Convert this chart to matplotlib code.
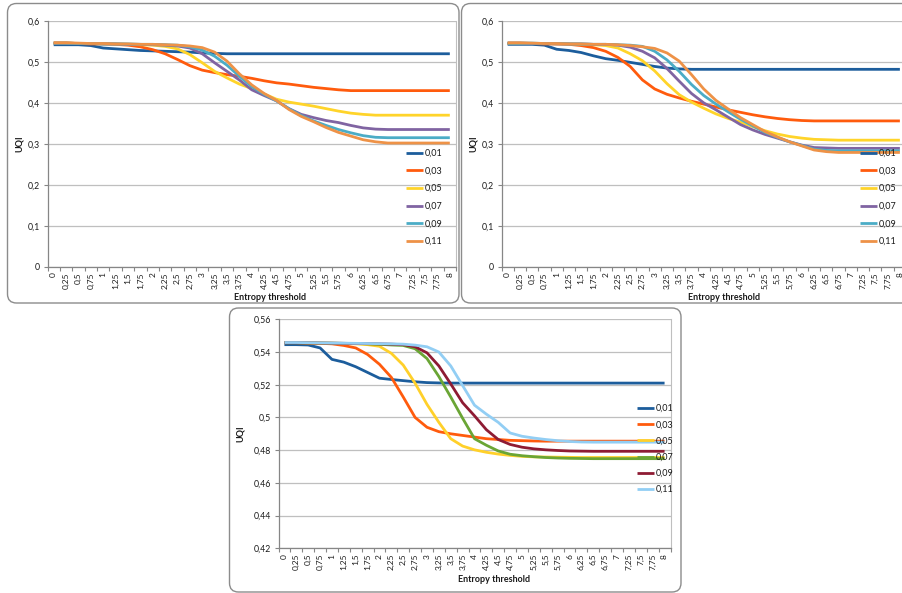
import numpy as np
import matplotlib
matplotlib.use("Agg")
import matplotlib.pyplot as plt
from matplotlib.patches import FancyBboxPatch
from matplotlib.transforms import IdentityTransform

plt.rcParams['font.family'] = ['Lato', 'DejaVu Sans']

# ---------------- data ----------------
x_labels = ["0", "0,25", "0,5", "0,75", "1", "1,25", "1,5", "1,75", "2", "2,25", "2,5", "2,75",
            "3", "3,25", "3,5", "3,75", "4", "4,25", "4,5", "4,75", "5", "5,25", "5,5", "5,75",
            "6", "6,25", "6,5", "6,75", "7", "7,25", "7,5", "7,75", "8"]
series_names = ["0,01", "0,03", "0,05", "0,07", "0,09", "0,11"]

# top-left panel
p1_001 = [0.542, 0.542, 0.542, 0.540, 0.534, 0.532, 0.530, 0.528, 0.527, 0.526, 0.525, 0.524, 0.522, 0.521] + [0.520] * 19
p1_003 = [0.546, 0.546, 0.545, 0.544, 0.544, 0.543, 0.541, 0.537, 0.530, 0.520, 0.506, 0.491, 0.480, 0.474, 0.469, 0.465,
          0.460, 0.454, 0.449, 0.446, 0.442, 0.438, 0.435, 0.432] + [0.430] * 9
p1_005 = [0.546, 0.546, 0.545, 0.545, 0.544, 0.544, 0.543, 0.542, 0.541, 0.538, 0.532, 0.518, 0.498, 0.477, 0.461, 0.446,
          0.435, 0.422, 0.409, 0.402, 0.397, 0.392, 0.386, 0.380, 0.375, 0.372] + [0.370] * 7
p1_007 = [0.546, 0.546, 0.545, 0.545, 0.544, 0.544, 0.543, 0.543, 0.542, 0.541, 0.539, 0.534, 0.520, 0.498, 0.477, 0.456,
          0.432, 0.418, 0.405, 0.386, 0.372, 0.364, 0.357, 0.352, 0.345, 0.339, 0.336] + [0.335] * 6
p1_009 = [0.546, 0.546, 0.545, 0.545, 0.544, 0.544, 0.544, 0.543, 0.543, 0.542, 0.541, 0.537, 0.529, 0.514, 0.492, 0.465,
          0.440, 0.421, 0.405, 0.386, 0.369, 0.356, 0.345, 0.335, 0.327, 0.320, 0.316] + [0.315] * 6
p1_011 = [0.547, 0.547, 0.546, 0.545, 0.545, 0.544, 0.544, 0.543, 0.543, 0.542, 0.541, 0.539, 0.535, 0.524, 0.502, 0.471,
          0.444, 0.423, 0.406, 0.384, 0.367, 0.354, 0.340, 0.328, 0.319, 0.310, 0.305] + [0.302] * 6

# top-right panel
p2_001 = [0.543, 0.543, 0.543, 0.541, 0.531, 0.528, 0.523, 0.515, 0.508, 0.504, 0.499, 0.494, 0.489, 0.485, 0.483] + [0.482] * 18
p2_003 = [0.545, 0.545, 0.545, 0.544, 0.544, 0.543, 0.540, 0.535, 0.526, 0.511, 0.489, 0.456, 0.434, 0.421, 0.412, 0.404,
          0.397, 0.390, 0.383, 0.377, 0.371, 0.366, 0.362, 0.359, 0.357] + [0.356] * 8
p2_005 = [0.545, 0.545, 0.545, 0.545, 0.544, 0.544, 0.543, 0.542, 0.540, 0.534, 0.520, 0.503, 0.478, 0.447, 0.420, 0.402,
          0.387, 0.373, 0.362, 0.353, 0.342, 0.332, 0.324, 0.318, 0.314, 0.311, 0.310] + [0.309] * 6
p2_007 = [0.546, 0.546, 0.545, 0.545, 0.544, 0.544, 0.544, 0.543, 0.543, 0.541, 0.536, 0.526, 0.510, 0.484, 0.453, 0.423,
          0.400, 0.383, 0.365, 0.347, 0.334, 0.323, 0.314, 0.305, 0.297, 0.291, 0.290] + [0.289] * 6
p2_009 = [0.546, 0.546, 0.546, 0.545, 0.545, 0.544, 0.544, 0.543, 0.543, 0.542, 0.541, 0.538, 0.526, 0.505, 0.477, 0.445,
          0.418, 0.397, 0.378, 0.360, 0.344, 0.328, 0.316, 0.305, 0.296, 0.287, 0.284] + [0.283] * 6
p2_011 = [0.547, 0.547, 0.546, 0.545, 0.545, 0.544, 0.544, 0.543, 0.543, 0.542, 0.540, 0.537, 0.533, 0.522, 0.502, 0.469,
          0.434, 0.406, 0.385, 0.364, 0.347, 0.330, 0.317, 0.305, 0.295, 0.285, 0.281] + [0.279] * 6

# bottom panel
p3_001 = [0.5445, 0.5445, 0.5443, 0.5425, 0.5355, 0.5338, 0.5310, 0.5275, 0.5240, 0.5232, 0.5225, 0.5218, 0.5213, 0.5211] + [0.5210] * 19
p3_003 = [0.5457, 0.5457, 0.5455, 0.5453, 0.5450, 0.5440, 0.5425, 0.5385, 0.5325, 0.5245, 0.5125, 0.5000, 0.4940, 0.4913,
          0.4900, 0.4890, 0.4880, 0.4870, 0.4865, 0.4860, 0.4858, 0.4856] + [0.4855] * 11
p3_005 = [0.5457, 0.5457, 0.5456, 0.5455, 0.5454, 0.5452, 0.5450, 0.5445, 0.5435, 0.5392, 0.5320, 0.5209, 0.5080, 0.4970,
          0.4870, 0.4825, 0.4802, 0.4787, 0.4776, 0.4768, 0.4762, 0.4759, 0.4758, 0.4757, 0.4756] + [0.4755] * 8
p3_007 = [0.5457, 0.5457, 0.5456, 0.5455, 0.5454, 0.5453, 0.5452, 0.5450, 0.5447, 0.5443, 0.5440, 0.5420, 0.5360, 0.5250,
          0.5125, 0.4995, 0.4870, 0.4830, 0.4795, 0.4775, 0.4766, 0.4760, 0.4755, 0.4752, 0.4750, 0.4749] + [0.4748] * 7
p3_009 = [0.5457, 0.5457, 0.5456, 0.5455, 0.5454, 0.5453, 0.5452, 0.5451, 0.5450, 0.5448, 0.5445, 0.5432, 0.5395, 0.5315,
          0.5205, 0.5090, 0.5010, 0.4925, 0.4865, 0.4835, 0.4818, 0.4808, 0.4802, 0.4798, 0.4795, 0.4794] + [0.4793] * 7
p3_011 = [0.5458, 0.5458, 0.5457, 0.5456, 0.5455, 0.5454, 0.5453, 0.5452, 0.5451, 0.5450, 0.5448, 0.5442, 0.5432, 0.5400,
          0.5315, 0.5195, 0.5075, 0.5020, 0.4970, 0.4905, 0.4885, 0.4874, 0.4865, 0.4858, 0.4853, 0.4850] + [0.4849] * 7

top_yticks = [0, 0.1, 0.2, 0.3, 0.4, 0.5, 0.6]
top_ylabels = ["0", "0,1", "0,2", "0,3", "0,4", "0,5", "0,6"]
bot_yticks = [0.42, 0.44, 0.46, 0.48, 0.50, 0.52, 0.54, 0.56]
bot_ylabels = ["0,42", "0,44", "0,46", "0,48", "0,5", "0,52", "0,54", "0,56"]

top_colors = ['#1C5D9C', '#FF5B0D', '#FFD42A', '#8064A2', '#4BACC6', '#EE9247']
bot_colors = ['#1C5D9C', '#FF5B0D', '#FFD02A', '#6AA535', '#8E1B33', '#92CEF4']

# ---------------- figure ----------------
W, H = 902, 593
fig = plt.figure(figsize=(W / 100, H / 100), dpi=100)


def add_px_axes(l, t, r, b):
    ax = fig.add_axes([l / W, 1 - b / H, (r - l) / W, (b - t) / H])
    ax.set_zorder(2)
    return ax


def panel_box(l, t, r, b):
    p = FancyBboxPatch((l, H - b), r - l, b - t, boxstyle="round,pad=0,rounding_size=9",
                       transform=IdentityTransform(), facecolor='none', edgecolor='#8C8C8C',
                       linewidth=1.0, zorder=-1)
    fig.patches.append(p)


panel_box(7.5, 3.5, 459, 303)
panel_box(461.5, 3.5, 940, 303)
panel_box(229.5, 308, 681, 592)

GRID = '#BFBFBF'
AX = '#868686'
TXT = '#1A1A1A'


def style_axes(ax, yticks, ylabels, ylim):
    xs = np.arange(len(x_labels))
    ax.set_xlim(-0.5, len(x_labels) - 0.5)
    ax.set_ylim(*ylim)
    ax.set_facecolor('none')
    ax.spines['top'].set_visible(False)
    ax.spines['right'].set_color(GRID)
    ax.spines['right'].set_linewidth(0.8)
    for s in ['left', 'bottom']:
        ax.spines[s].set_color(AX)
        ax.spines[s].set_linewidth(0.9)
    ax.set_yticks(yticks)
    ax.set_yticklabels(ylabels)
    ax.yaxis.grid(True, color=GRID, linewidth=0.9)
    ax.set_axisbelow(True)
    ax.tick_params(axis='y', direction='out', length=3, width=0.8, color=AX,
                   labelsize=6.3, labelcolor=TXT, pad=2.5)
    ax.set_xticks(np.arange(-0.5, len(x_labels), 1.0))
    ax.set_xticklabels([])
    ax.tick_params(axis='x', which='major', direction='out', length=3, width=0.8, color=AX)
    ax.set_xticks(xs, minor=True)
    ax.set_xticklabels(x_labels, minor=True, rotation=90)
    ax.tick_params(axis='x', which='minor', length=0, labelsize=6.0, labelcolor=TXT, pad=4)


def draw(ax, data, colors, lw):
    xs = np.arange(len(x_labels))
    for vals, c, name in zip(data, colors, series_names):
        ax.plot(xs, vals, color=c, lw=lw, label=name, solid_joinstyle='round',
                solid_capstyle='butt', zorder=3)


def legend(ax, x_px, top_px, spacing):
    leg = ax.legend(loc='upper left', bbox_to_anchor=(x_px / W, 1 - top_px / H),
                    bbox_transform=fig.transFigure, frameon=False, fontsize=6.5,
                    handlelength=1.9, handletextpad=0.15, labelspacing=spacing,
                    borderpad=0, borderaxespad=0)
    for t in leg.get_texts():
        t.set_color(TXT)
    leg.set_zorder(5)


# panel 1
ax1 = add_px_axes(47.5, 21, 456, 266.7)
style_axes(ax1, top_yticks, top_ylabels, (0, 0.6))
draw(ax1, [p1_001, p1_003, p1_005, p1_007, p1_009, p1_011], top_colors, 2.0)
legend(ax1, 406, 149, 0.95)
fig.text(19 / W, 1 - 144 / H, 'UQI', rotation=90, ha='center', va='center',
         fontsize=6.5, fontweight='bold', color=TXT)
fig.text(270 / W, 1 - 297 / H, 'Entropy threshold', ha='center', va='center',
         fontsize=6.5, fontweight='bold', color=TXT)

# panel 2 (cropped on the right)
ax2 = add_px_axes(501.5, 21, 906, 266.7)
style_axes(ax2, top_yticks, top_ylabels, (0, 0.6))
draw(ax2, [p2_001, p2_003, p2_005, p2_007, p2_009, p2_011], top_colors, 2.0)
legend(ax2, 860, 149, 0.95)
fig.text(473 / W, 1 - 144 / H, 'UQI', rotation=90, ha='center', va='center',
         fontsize=6.5, fontweight='bold', color=TXT)
fig.text(724 / W, 1 - 297 / H, 'Entropy threshold', ha='center', va='center',
         fontsize=6.5, fontweight='bold', color=TXT)

# panel 3
ax3 = add_px_axes(278.5, 319.3, 670.5, 548.3)
style_axes(ax3, bot_yticks, bot_ylabels, (0.42, 0.56))
draw(ax3, [p3_001, p3_003, p3_005, p3_007, p3_009, p3_011], bot_colors, 2.0)
legend(ax3, 637, 404, 0.8)
fig.text(240 / W, 1 - 434 / H, 'UQI', rotation=90, ha='center', va='center',
         fontsize=6.5, fontweight='bold', color=TXT)
fig.text(494 / W, 1 - 579 / H, 'Entropy threshold', ha='center', va='center',
         fontsize=6.5, fontweight='bold', color=TXT)

fig.savefig('out.png', dpi=100, facecolor='white')
